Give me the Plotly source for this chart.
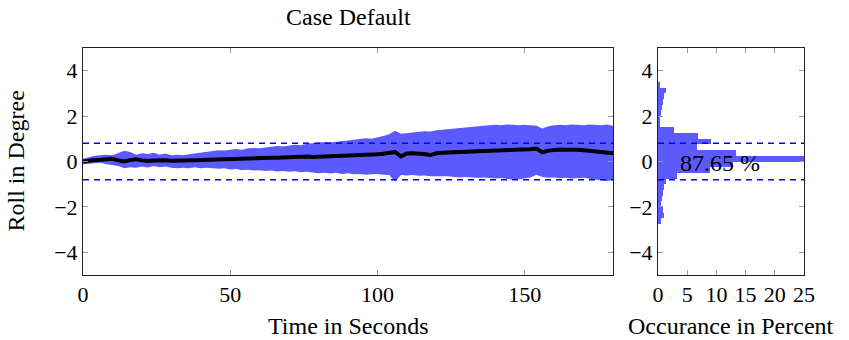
import plotly.graph_objects as go

# Roll angle over time: mean and spread envelope (sampled every 2 s)
time_s = list(range(0, 181, 2))

roll_upper = [
    0.12, 0.18, 0.25, 0.27, 0.30, 0.28, 0.38, 0.47, 0.42, 0.30,
    0.36, 0.33, 0.38, 0.30, 0.35, 0.28, 0.30, 0.28, 0.32, 0.35,
    0.40, 0.42, 0.46, 0.50, 0.48, 0.52, 0.55, 0.52, 0.58, 0.60,
    0.58, 0.62, 0.65, 0.68, 0.66, 0.70, 0.74, 0.72, 0.78, 0.80,
    0.83, 0.86, 0.84, 0.88, 0.90, 0.92, 0.95, 0.98, 1.02, 1.00,
    1.05, 1.12, 1.20, 1.35, 1.22, 1.25, 1.28, 1.30, 1.33, 1.32,
    1.38, 1.40, 1.42, 1.45, 1.47, 1.50, 1.52, 1.55, 1.57, 1.60,
    1.62, 1.60, 1.63, 1.62, 1.60, 1.62, 1.60, 1.58, 1.45, 1.55,
    1.60, 1.62, 1.60, 1.63, 1.62, 1.60, 1.63, 1.62, 1.60, 1.63,
    1.58,
]

roll_lower = [
    -0.12, -0.10, -0.08, -0.05, -0.12, -0.15, -0.20, -0.30, -0.25, -0.28,
    -0.22, -0.26, -0.20, -0.25, -0.22, -0.28, -0.30, -0.28, -0.30, -0.25,
    -0.30, -0.27, -0.30, -0.32, -0.30, -0.35, -0.33, -0.38, -0.36, -0.40,
    -0.38, -0.42, -0.40, -0.44, -0.42, -0.45, -0.43, -0.47, -0.45, -0.50,
    -0.52, -0.50, -0.53, -0.50, -0.55, -0.52, -0.56, -0.55, -0.58, -0.56,
    -0.55, -0.58, -0.60, -0.88, -0.60, -0.62, -0.60, -0.63, -0.62, -0.65,
    -0.64, -0.66, -0.65, -0.68, -0.70, -0.68, -0.70, -0.72, -0.70, -0.72,
    -0.75, -0.73, -0.76, -0.80, -0.78, -0.75, -0.70, -0.58, -0.68, -0.72,
    -0.70, -0.74, -0.72, -0.75, -0.74, -0.72, -0.76, -0.80, -0.84, -0.86,
    -0.82,
]

roll_mean = [
    0.00, 0.05, 0.07, 0.08, 0.10, 0.12, 0.05, 0.00, 0.06, 0.10,
    0.05, 0.02, 0.04, 0.06, 0.05, 0.03, 0.03, 0.02, 0.04, 0.05,
    0.07, 0.08, 0.10, 0.08, 0.10, 0.12, 0.11, 0.13, 0.12, 0.14,
    0.16, 0.15, 0.17, 0.16, 0.18, 0.20, 0.18, 0.20, 0.22, 0.20,
    0.21, 0.23, 0.22, 0.24, 0.22, 0.24, 0.25, 0.26, 0.28, 0.30,
    0.32, 0.34, 0.36, 0.42, 0.22, 0.35, 0.36, 0.35, 0.33, 0.28,
    0.36, 0.38, 0.40, 0.41, 0.42, 0.43, 0.44, 0.45, 0.46, 0.47,
    0.48, 0.47, 0.48, 0.50, 0.49, 0.50, 0.54, 0.57, 0.40, 0.48,
    0.52, 0.53, 0.52, 0.54, 0.52, 0.50, 0.48, 0.45, 0.40, 0.38,
    0.36,
]

# Distribution of roll angle (bin centres in degrees, occurrence in percent)
bin_centers = [
    3.375, 3.125, 2.875, 2.625, 2.375, 2.125, 1.875, 1.625, 1.375, 1.125,
    0.875, 0.625, 0.375, 0.125, -0.125, -0.375, -0.625, -0.875, -1.125, -1.375,
    -1.625, -1.875, -2.125, -2.375, -2.625,
]
occurrence = [
    0.3, 1.3, 1.0, 0.8, 0.6, 0.45, 0.3, 0.2, 2.7, 6.9,
    9.0, 6.6, 13.4, 26.0, 12.8, 8.9, 3.3, 1.3, 1.0, 0.85,
    0.7, 0.55, 0.8, 1.1, 0.5,
]

threshold = 0.8
within_label = "87.65 %"

x_ticks_main = [0, 50, 100, 150]
x_ticks_hist = [0, 5, 10, 15, 20, 25]
y_ticks = [-4, -2, 0, 2, 4]

BAND = "rgb(90,90,255)"
DASH = "rgb(0,0,255)"
FONT = "Liberation Serif"
TICK_SIZE = 22
LABEL_SIZE = 24

fig = go.Figure()

# spread band
fig.add_trace(go.Scatter(x=time_s, y=roll_lower, mode="lines",
                         line=dict(width=0, color=BAND), showlegend=False,
                         hoverinfo="skip", xaxis="x", yaxis="y"))
fig.add_trace(go.Scatter(x=time_s, y=roll_upper, mode="lines",
                         line=dict(width=0, color=BAND), fill="tonexty",
                         fillcolor=BAND, showlegend=False, xaxis="x", yaxis="y"))
# mean roll
fig.add_trace(go.Scatter(x=time_s, y=roll_mean, mode="lines",
                         line=dict(width=4, color="black"), showlegend=False,
                         xaxis="x", yaxis="y"))

# threshold lines on the time plot
for lvl in (threshold, -threshold):
    fig.add_trace(go.Scatter(x=[0, 180], y=[lvl, lvl], mode="lines",
                             line=dict(width=1.5, color=DASH, dash="6px,5px"),
                             showlegend=False, xaxis="x", yaxis="y"))

# histogram
fig.add_trace(go.Bar(y=bin_centers, x=occurrence, orientation="h", width=0.25,
                     marker=dict(color=BAND, line=dict(width=0)),
                     showlegend=False, xaxis="x2", yaxis="y2"))
for lvl in (threshold, -threshold):
    fig.add_trace(go.Scatter(x=[0, 25], y=[lvl, lvl], mode="lines",
                             line=dict(width=1.5, color=DASH, dash="6px,5px"),
                             showlegend=False, xaxis="x2", yaxis="y2"))

axis_common = dict(
    showgrid=False, zeroline=False, showline=True, linecolor="#222",
    linewidth=1, mirror="ticks", ticks="inside", ticklen=5,
    tickcolor="#9a9a9a", tickwidth=1,
    tickfont=dict(family=FONT, size=TICK_SIZE, color="black"),
)

L, R, T, B = 83, 45, 48, 65
W = 849 - L - R
main_end = (613 - L) / W
hist_start = (658 - L) / W

fig.update_layout(
    width=849, height=340,
    margin=dict(l=L, r=R, t=T, b=B, pad=0),
    paper_bgcolor="white", plot_bgcolor="white",
    font=dict(family=FONT, size=TICK_SIZE, color="black"),
    bargap=0,
    xaxis=dict(domain=[0, main_end], range=[0, 180], tickvals=x_ticks_main,
               **axis_common),
    yaxis=dict(domain=[0, 1], range=[-5, 5], tickvals=y_ticks, **axis_common),
    xaxis2=dict(domain=[hist_start, 1], range=[0, 25], tickvals=x_ticks_hist,
                anchor="y2", **axis_common),
    yaxis2=dict(domain=[0, 1], range=[-5, 5], tickvals=y_ticks, anchor="x2",
                **axis_common),
)

fig.add_annotation(text="Case Default", xref="x domain", yref="y domain",
                   x=0.5, y=1, yanchor="middle", yshift=31, showarrow=False,
                   font=dict(family=FONT, size=LABEL_SIZE))
fig.add_annotation(text="Time in Seconds", xref="x domain", yref="y domain",
                   x=0.5, y=0, yanchor="middle", yshift=-51, showarrow=False,
                   font=dict(family=FONT, size=LABEL_SIZE))
fig.add_annotation(text="Occurance in Percent", xref="x2 domain", yref="y2 domain",
                   x=0.5, y=0, yanchor="middle", yshift=-51, showarrow=False,
                   font=dict(family=FONT, size=LABEL_SIZE))
fig.add_annotation(text="Roll in Degree", xref="x domain", yref="y domain",
                   x=0, y=0.5, xanchor="center", xshift=-68, textangle=-90,
                   showarrow=False, font=dict(family=FONT, size=LABEL_SIZE))
fig.add_annotation(text=within_label, xref="x2", yref="y2", x=10.6, y=-0.05,
                   showarrow=False, font=dict(family=FONT, size=LABEL_SIZE, color="black"))

fig.write_html("out.html")
